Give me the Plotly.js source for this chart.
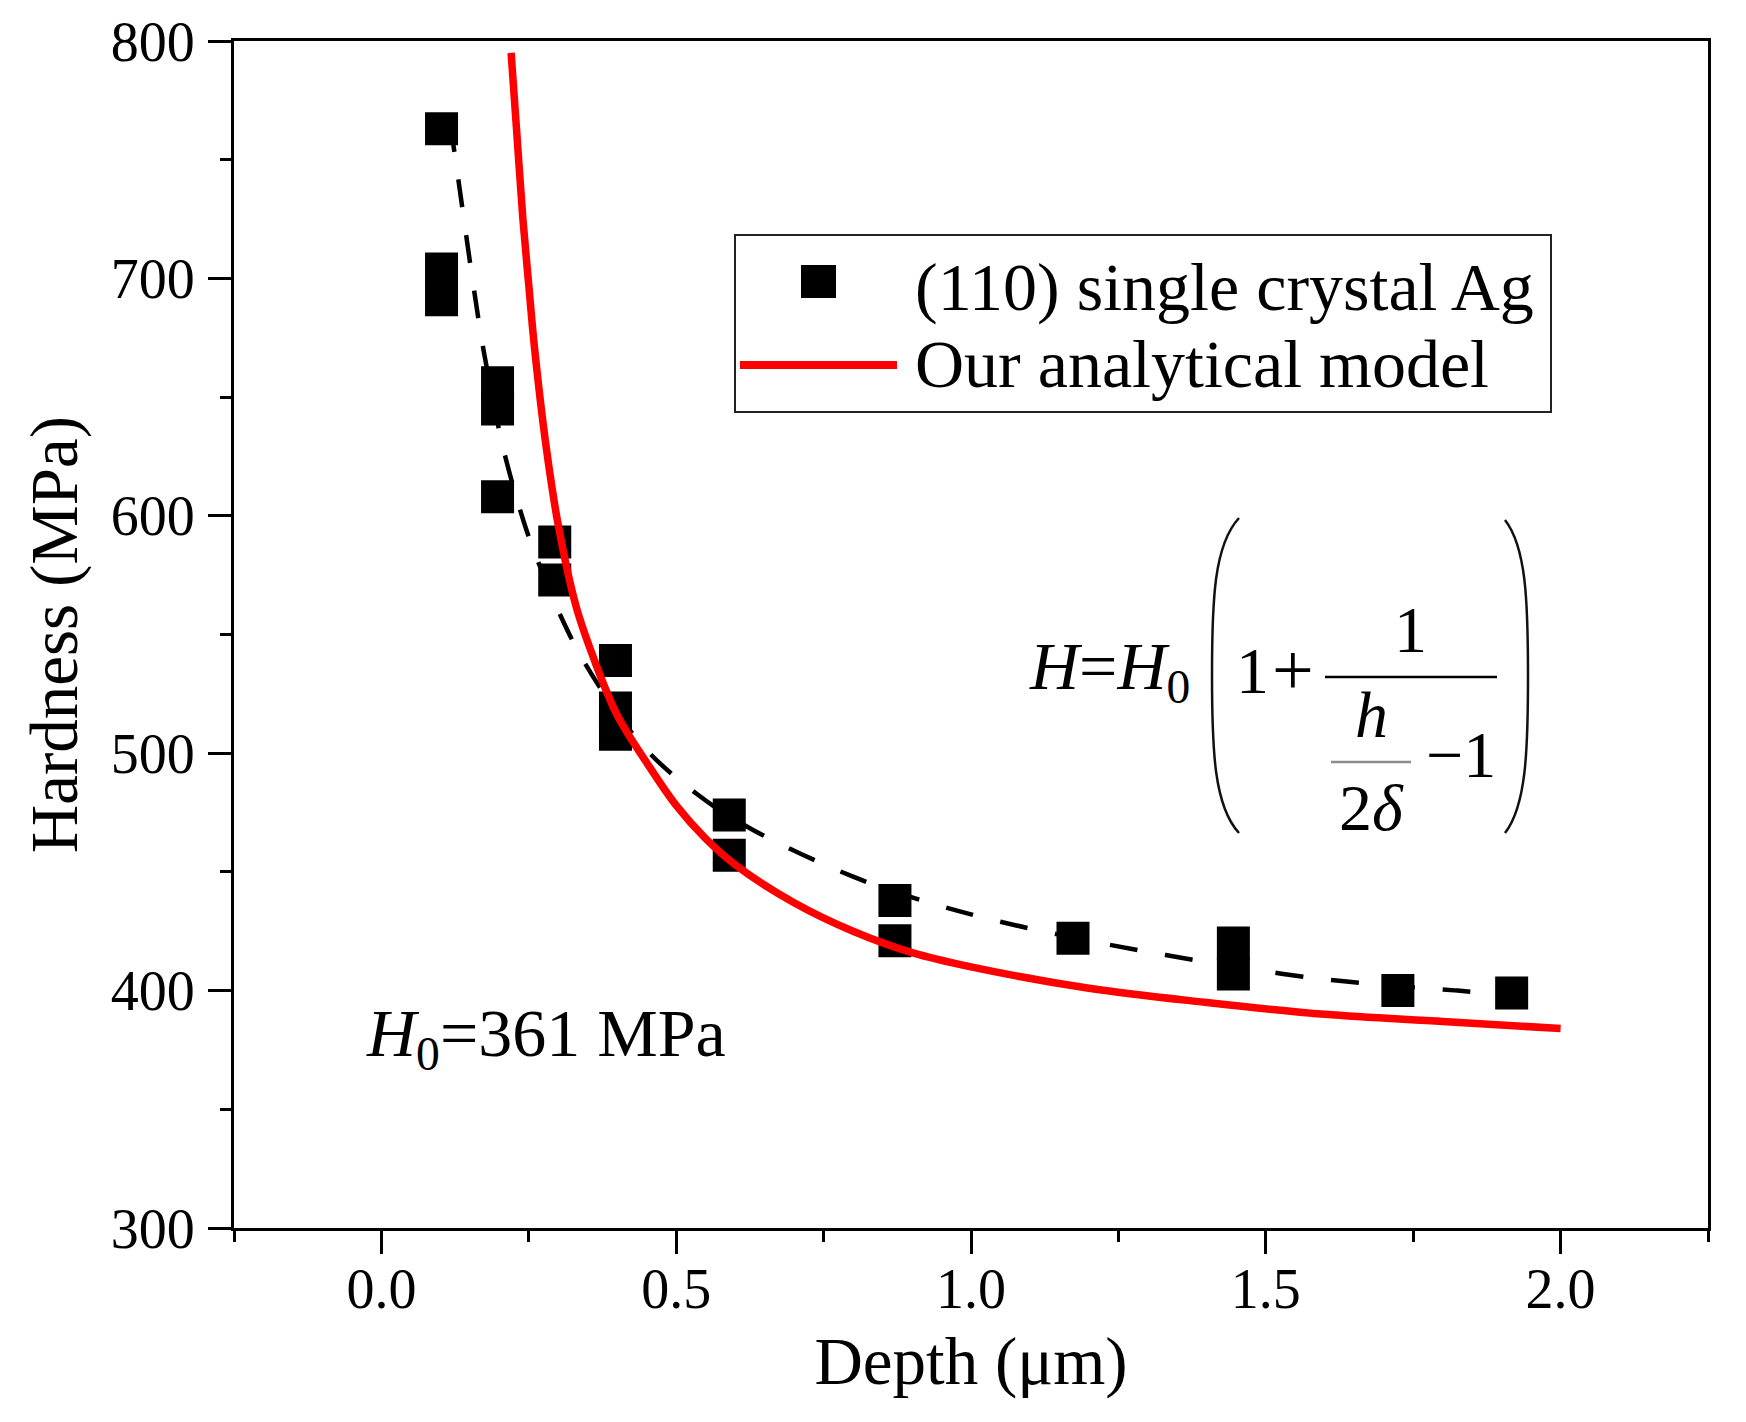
<!DOCTYPE html>
<html>
<head>
<meta charset="utf-8">
<script src="https://cdn.plot.ly/plotly-3.0.1.min.js"></script>
<style>html,body{margin:0;padding:0;background:#fff;}</style>
</head>
<body>
<div id="chart" style="width:1746px;height:1422px;"></div>
<script>
// ---- data ----
const depthData = [0.102, 0.102, 0.102, 0.197, 0.197, 0.197, 0.294, 0.294, 0.397, 0.397, 0.397, 0.59, 0.59, 0.871, 0.871, 1.173, 1.445, 1.445, 1.724, 1.917];
const hardnessData = [763, 704, 691, 656, 645, 608, 589, 573, 539, 519, 508, 474, 457, 438, 421, 422, 420, 407, 400, 399];

const fitDepth = [0.117, 0.128, 0.156, 0.171, 0.183, 0.208, 0.246, 0.27, 0.30, 0.345, 0.44, 0.534, 0.628, 0.80, 0.93, 1.05, 1.20, 1.33, 1.45, 1.59, 1.72, 1.825, 1.92];
const fitHardness = [765, 746, 697, 673, 657, 627, 594, 578, 560, 538, 504, 483, 468, 448, 437, 429, 421, 415, 410, 405, 402, 400, 398];

const modelDepth = [0.22, 0.23, 0.24, 0.25, 0.26, 0.28, 0.30, 0.33, 0.36, 0.40, 0.45, 0.50, 0.55, 0.60, 0.70, 0.80, 0.90, 1.00, 1.20, 1.40, 1.60, 1.80, 2.00];
const modelHardness = [795, 760, 725, 697, 670, 628, 596, 562, 540, 516, 496, 478, 464, 453, 437, 425, 416, 410, 401, 395, 390, 387, 384];

const seriesNames = ['(110) single crystal Ag', 'Our analytical model'];
const xTitle = 'Depth (\u03bcm)';
const yTitle = 'Hardness (MPa)';
const h0Label = '<i>H</i><sub>0</sub>=361 MPa';

// ---- layout helpers (pixel -> paper) ----
const W = 1746, H = 1422;
const PL = 234, PR = 1708, PT = 41, PB = 1228;
function px(x) { return (x - PL) / (PR - PL); }
function py(y) { return (PB - y) / (PB - PT); }
const FONT = 'Liberation Serif, Times New Roman, serif';

function txt(text, x, baseline, size, xanchor) {
  return {
    text: text, xref: 'paper', yref: 'paper', showarrow: false,
    x: px(x), y: py(baseline - 0.3375 * size), xanchor: xanchor || 'left', yanchor: 'middle',
    font: {family: FONT, size: size, color: '#000'}, borderpad: 0
  };
}

const traces = [
  {
    x: fitDepth, y: fitHardness, type: 'scatter', mode: 'lines', showlegend: false,
    line: {color: '#000', width: 4.5, dash: '28px,28px', shape: 'spline', smoothing: 1}
  },
  {
    x: depthData, y: hardnessData, type: 'scatter', mode: 'markers', name: seriesNames[0], showlegend: false,
    marker: {symbol: 'square', size: 33, color: '#000', line: {width: 0}}
  },
  {
    x: modelDepth, y: modelHardness, type: 'scatter', mode: 'lines', name: seriesNames[1], showlegend: false,
    line: {color: '#ff0000', width: 7.5, shape: 'spline', smoothing: 1}
  }
];

const axisCommon = {
  showline: true, linecolor: '#000', linewidth: 3, mirror: true,
  ticks: 'outside', ticklen: 23, tickwidth: 3, tickcolor: '#000',
  showgrid: false, zeroline: false,
  tickfont: {family: FONT, size: 56, color: '#000'}
};

const layout = {
  width: W, height: H,
  margin: {l: PL, r: W - PR, t: PT, b: H - PB, pad: 0},
  paper_bgcolor: '#fff', plot_bgcolor: '#fff',
  showlegend: false,
  xaxis: Object.assign({}, axisCommon, {
    range: [-0.25, 2.25], tick0: 0, dtick: 0.5, tickformat: '.1f',
    ticklabelstandoff: -13,
    minor: {dtick: 0.25, tick0: 0, ticks: 'outside', ticklen: 11, tickwidth: 3, tickcolor: '#000', showgrid: false},
    title: {text: xTitle, font: {family: FONT, size: 67, color: '#000'}, standoff: 18}
  }),
  yaxis: Object.assign({}, axisCommon, {
    range: [300, 800], tick0: 300, dtick: 100,
    ticklabelstandoff: 2,
    minor: {dtick: 50, tick0: 300, ticks: 'outside', ticklen: 11, tickwidth: 3, tickcolor: '#000', showgrid: false},
    title: {text: yTitle, font: {family: FONT, size: 67, color: '#000'}, standoff: 12}
  }),
  annotations: [
    txt(h0Label, 365, 1060, 68),
    // legend texts
    txt(seriesNames[0], 914, 310, 68),
    txt(seriesNames[1], 914, 387, 68),
    // formula
    txt('<i>H</i>=<i>H</i><sub>0</sub>', 1028, 693, 68),
    txt('1', 1270, 693, 66, 'right'),
    txt('+', 1271, 695, 74, 'left'),
    txt('1', 1410, 652, 66, 'center'),
    txt('<i>h</i>', 1371, 737, 66, 'center'),
    txt('2<i>\u03b4</i>', 1371, 830, 66, 'center'),
    txt('\u22121', 1425, 777, 66)
  ],
  shapes: [
    // legend frame
    {type: 'rect', xref: 'paper', yref: 'paper', x0: px(735), x1: px(1551), y0: py(412), y1: py(235),
     line: {color: '#222', width: 2}, fillcolor: 'rgba(0,0,0,0)'},
    {type: 'rect', xref: 'paper', yref: 'paper', x0: px(801), x1: px(836), y0: py(298), y1: py(265),
     line: {width: 0}, fillcolor: '#000'},
    {type: 'line', xref: 'paper', yref: 'paper', x0: px(740), x1: px(897), y0: py(365), y1: py(365),
     line: {color: '#ff0000', width: 8}},
    // fraction bars
    {type: 'line', xref: 'paper', yref: 'paper', x0: px(1325), x1: px(1497), y0: py(677), y1: py(677),
     line: {color: '#000', width: 2.5}},
    {type: 'line', xref: 'paper', yref: 'paper', x0: px(1331), x1: px(1411), y0: py(762), y1: py(762),
     line: {color: '#8c8c8c', width: 2.5}},
    // big parentheses
    {type: 'path', xref: 'paper', yref: 'paper', line: {color: '#111', width: 2.5},
     path: 'M' + px(1239) + ',' + py(518) + ' C' + px(1214) + ',' + py(545) + ' ' + px(1212) + ',' + py(600) + ' ' + px(1212) + ',' + py(675) +
           ' C' + px(1212) + ',' + py(750) + ' ' + px(1214) + ',' + py(806) + ' ' + px(1239) + ',' + py(833)},
    {type: 'path', xref: 'paper', yref: 'paper', line: {color: '#111', width: 2.5},
     path: 'M' + px(1505) + ',' + py(520) + ' C' + px(1526) + ',' + py(547) + ' ' + px(1528) + ',' + py(600) + ' ' + px(1528) + ',' + py(676) +
           ' C' + px(1528) + ',' + py(752) + ' ' + px(1526) + ',' + py(806) + ' ' + px(1505) + ',' + py(833)}
  ]
};

Plotly.newPlot('chart', traces, layout, {displayModeBar: false, staticPlot: true});
</script>
</body>
</html>
